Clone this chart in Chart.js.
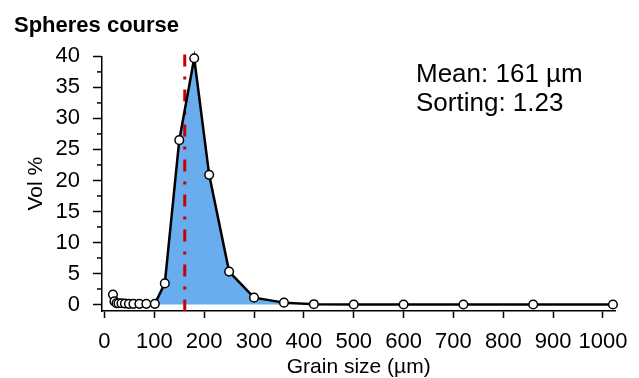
<!DOCTYPE html>
<html>
<head>
<meta charset="utf-8">
<title>Spheres course</title>
<script src="https://cdn.jsdelivr.net/npm/chart.js@4.4.0/dist/chart.umd.min.js"></script>
<style>
    body { margin: 0; background: #fff; }
    #wrap { width: 639px; height: 378px; }
</style>
</head>
<body>
<div id="wrap"><canvas id="chart" width="639" height="378"></canvas></div>
<script>
// grain size (µm) and volume %
const grainSize = [17, 20, 24, 28, 34, 41, 49, 58, 70, 84, 101, 121, 150, 180, 210, 250, 300, 360, 420, 500, 600, 720, 860, 1020];
const volPercent = [1.6, 0.5, 0.2, 0.2, 0.2, 0.15, 0.1, 0.1, 0.1, 0.1, 0.1, 3.4, 26.5, 39.7, 20.9, 5.3, 1.1, 0.3, 0.05, 0, 0, 0, 0, 0];

const xTicks = [0, 100, 200, 300, 400, 500, 600, 700, 800, 900, 1000];
const yTicks = [0, 5, 10, 15, 20, 25, 30, 35, 40];
const yMinorTicks = [2.5, 7.5, 12.5, 17.5, 22.5, 27.5, 32.5, 37.5];

const meanSize = 161;
const sorting = 1.23;

const FONT = '"Liberation Sans", Arial, Helvetica, sans-serif';

const points = grainSize.map((x, i) => ({ x: x, y: volPercent[i] }));

// minor ticks on the y axis + the stats text
const extras = {
    id: 'extras',
    afterDraw(chart) {
        const ctx = chart.ctx;
        const y = chart.scales.y;
        ctx.save();
        ctx.strokeStyle = '#000';
        ctx.lineWidth = 1.5;
        yMinorTicks.forEach(v => {
            const py = y.getPixelForValue(v);
            ctx.beginPath();
            ctx.moveTo(y.right - 5, py);
            ctx.lineTo(y.right, py);
            ctx.stroke();
        });
        ctx.fillStyle = '#000';
        ctx.font = '26px ' + FONT;
        ctx.textBaseline = 'alphabetic';
        ctx.fillText('Mean: ' + meanSize + ' µm', 416, 82);
        ctx.fillText('Sorting: ' + sorting, 416, 111);
        ctx.restore();
    }
};

new Chart(document.getElementById('chart'), {
    type: 'line',
    data: {
        datasets: [
            {
                data: points,
                borderColor: '#000',
                borderWidth: 2.5,
                backgroundColor: '#69adef',
                fill: 'origin',
                tension: 0,
                pointRadius: 4.3,
                pointBorderWidth: 1.5,
                pointBackgroundColor: '#fff',
                pointBorderColor: '#000',
                clip: false,
                order: 1
            },
            {
                // mean line
                data: [{ x: meanSize, y: 40.3 }, { x: meanSize, y: -1.05 }],
                borderColor: '#c80000',
                borderWidth: 3,
                borderDash: [12, 10, 3, 10],
                pointRadius: 0,
                fill: false,
                clip: false,
                order: 2
            }
        ]
    },
    options: {
        responsive: false,
        animation: false,
        layout: { padding: { left: 14, right: 22, top: 8, bottom: 0 } },
        plugins: {
            legend: { display: false },
            tooltip: { enabled: false },
            filler: { drawTime: 'beforeDatasetsDraw' },
            title: {
                display: true,
                text: 'Spheres course',
                align: 'start',
                color: '#000',
                font: { family: FONT, size: 22, weight: 'bold' },
                padding: { top: 5, bottom: 17 }
            }
        },
        scales: {
            x: {
                type: 'linear',
                min: -5,
                max: 1025,
                afterBuildTicks: s => { s.ticks = xTicks.map(v => ({ value: v })); },
                afterFit: s => { s.height = 378 - 311; },
                ticks: {
                    color: '#000',
                    font: { family: FONT, size: 22 },
                    padding: 11,
                    maxRotation: 0,
                    autoSkip: false,
                    callback: v => String(v)
                },
                grid: {
                    drawOnChartArea: false,
                    drawTicks: true,
                    tickLength: 7,
                    tickColor: '#000',
                    tickWidth: 1.5
                },
                border: { color: '#000', width: 1.5 },
                title: {
                    display: true,
                    text: 'Grain size (µm)',
                    color: '#000',
                    font: { family: FONT, size: 21, lineHeight: 1.0 },
                    padding: { top: 0, bottom: 0 }
                }
            },
            y: {
                type: 'linear',
                min: -1.05,
                max: 40,
                afterBuildTicks: s => { s.ticks = yTicks.map(v => ({ value: v })); },
                afterFit: s => { s.width = 102 - 14; },
                ticks: {
                    color: '#000',
                    font: { family: FONT, size: 22 },
                    padding: 13,
                    callback: v => String(v)
                },
                grid: {
                    drawOnChartArea: false,
                    drawTicks: true,
                    tickLength: 9,
                    tickColor: '#000',
                    tickWidth: 1.5
                },
                border: { color: '#000', width: 1.5 },
                title: {
                    display: true,
                    text: 'Vol %',
                    color: '#000',
                    font: { family: FONT, size: 21 },
                    padding: { top: 10, bottom: 0 }
                }
            }
        }
    },
    plugins: [extras]
});
</script>
</body>
</html>
